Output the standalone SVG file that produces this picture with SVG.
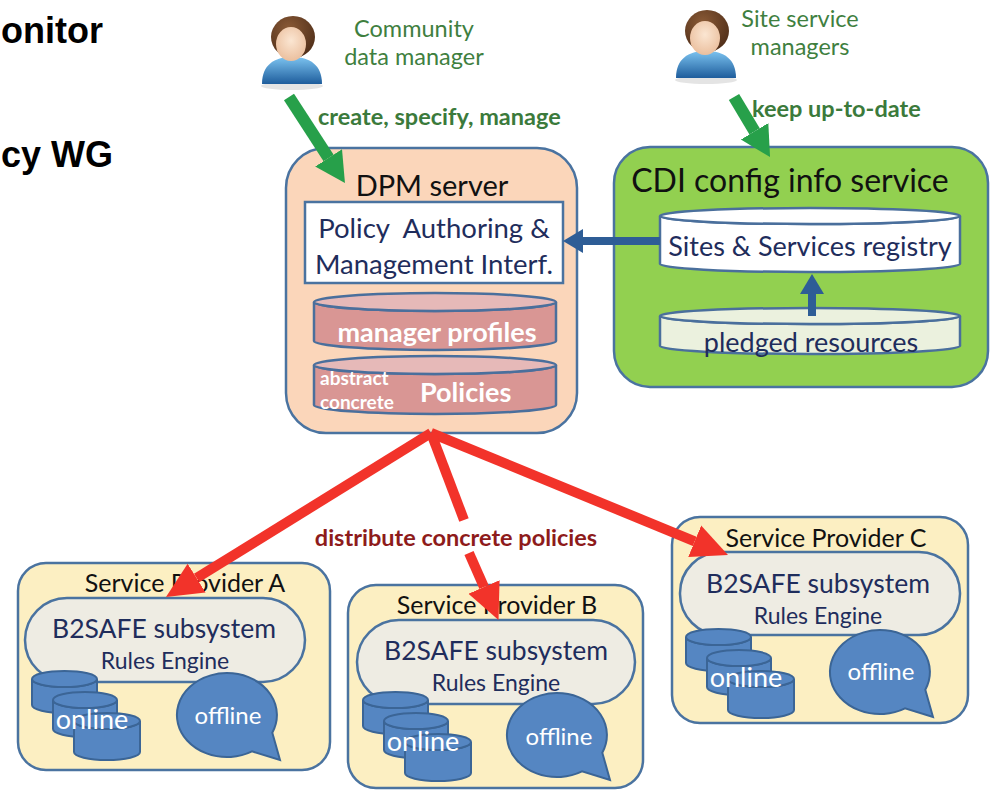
<svg xmlns="http://www.w3.org/2000/svg" xmlns:xlink="http://www.w3.org/1999/xlink" width="992" height="790" viewBox="0 0 992 790">
  <style>
    .t { font-family: "Lato", "Liberation Sans", sans-serif; }
    .head { font-family: "Liberation Sans", Arial, sans-serif; font-weight: bold; font-size: 36px; fill: #000; }
    .actor { font-size: 23.5px; fill: #3f7f3f; text-anchor: middle; }
    .verb { font-size: 23.5px; font-weight: bold; fill: #3b7a3b; }
    .title { fill: #111; text-anchor: middle; }
    .navy { fill: #1f2d5c; text-anchor: middle; }
    .white { fill: #fff; font-weight: bold; }
    .box { stroke: #4a73a0; stroke-width: 2.5; }
    .dpm { fill: #fbd6ba; }
    .cdi { fill: #92d050; }
    .sp { fill: #fcefc2; }
    .stadium { fill: #eeece3; stroke: #4a73a0; stroke-width: 2.5; }
    .rose { fill: #d99694; stroke: #4a6f9c; stroke-width: 2.5; }
    .roseTop { fill: #e6b9b8; stroke: #4a6f9c; stroke-width: 2.5; }
    .pale { fill: #ffffff; stroke: #4a6f9c; stroke-width: 2.5; }
    .pledged { fill: #ebf1de; stroke: #4a6f9c; stroke-width: 2.5; }
    .store { fill: #5586c2; stroke: #3b6596; stroke-width: 2; }
    .spname { font-size: 25px; fill: #111; text-anchor: middle; }
    .b2 { font-size: 26.5px; }
    .rules { font-size: 23px; }
    .online { font-size: 27px; fill: #fff; text-anchor: middle; }
    .offline { font-size: 24px; fill: #fff; text-anchor: middle; }
    .red { stroke: #f2332a; stroke-width: 10; fill: none; }
    .green { stroke: #27a04a; stroke-width: 12; fill: none; }
    .blue { stroke: #2e5d96; stroke-width: 8; fill: none; }
  </style>
  <defs>
    <marker id="redHead" markerUnits="userSpaceOnUse" viewBox="0 -20 40 40" refX="0" refY="0" markerWidth="40" markerHeight="40" orient="auto">
      <path d="M0,-17 L36,0 L0,17 Z" fill="#f2332a"/>
    </marker>
    <marker id="greenHead" markerUnits="userSpaceOnUse" viewBox="0 -20 40 40" refX="0" refY="0" markerWidth="40" markerHeight="40" orient="auto">
      <path d="M0,-16 L30,0 L0,16 Z" fill="#27a04a"/>
    </marker>
    <marker id="blueHead" markerUnits="userSpaceOnUse" viewBox="0 -15 30 30" refX="0" refY="0" markerWidth="30" markerHeight="30" orient="auto">
      <path d="M0,-12 L20,0 L0,12 Z" fill="#2e5d96"/>
    </marker>
    <radialGradient id="hair" cx="0.4" cy="0.3" r="0.8">
      <stop offset="0" stop-color="#8a5a36"/>
      <stop offset="1" stop-color="#4a2a16"/>
    </radialGradient>
    <radialGradient id="skin" cx="0.5" cy="0.4" r="0.7">
      <stop offset="0" stop-color="#fbe6d2"/>
      <stop offset="1" stop-color="#e8b996"/>
    </radialGradient>
    <linearGradient id="shirt" x1="0" y1="0" x2="0" y2="1">
      <stop offset="0" stop-color="#7cc3f0"/>
      <stop offset="1" stop-color="#1e5d9c"/>
    </linearGradient>
    <!-- person figure, 64 x 74 -->
    <g id="person">
      <ellipse cx="32" cy="70" rx="31" ry="4" fill="#d8d8d8" opacity="0.7"/>
      <path d="M2,68 C2,49 14,41 32,41 C50,41 62,49 62,68 Z" fill="url(#shirt)"/>
      <ellipse cx="33" cy="21" rx="22" ry="21" fill="url(#hair)"/>
      <ellipse cx="31" cy="28" rx="15" ry="17" fill="url(#skin)"/>
    </g>
    <!-- three stacked storage cylinders -->
    <g id="stack" class="store">
      <path d="M0,8 V34 A32.5,8 0 0 0 65,34 V8 A32.5,8 0 0 1 0,8 Z"/>
      <ellipse cx="32.5" cy="8" rx="32.5" ry="8"/>
      <path d="M21,29 V58 A32,8 0 0 0 85,58 V29 A32,8 0 0 1 21,29 Z"/>
      <ellipse cx="53" cy="29" rx="32" ry="8"/>
      <path d="M42,50 V81 A33,8 0 0 0 108,81 V50 A33,8 0 0 1 42,50 Z"/>
      <ellipse cx="75" cy="50" rx="33" ry="8"/>
    </g>
    <!-- speech bubble, centred on 0,0 -->
    <path id="bubble" class="store" d="M25,36.4 A50,42 0 1 1 45.3,17.7 L53,45 Z"/>
  </defs>

  <rect width="992" height="790" fill="#ffffff"/>

  <!-- slide title fragments -->
  <text class="head" x="1" y="43">onitor</text>
  <text class="head" x="1" y="167" font-size="34">cy WG</text>

  <g id="community-data-manager">
    <use xlink:href="#person" transform="translate(260,16)"/>
    <text class="t actor" x="414" y="37">Community</text>
    <text class="t actor" x="414" y="65">data manager</text>
  </g>

  <g id="site-service-managers">
    <use xlink:href="#person" transform="translate(674,10)"/>
    <text class="t actor" x="800" y="27">Site service</text>
    <text class="t actor" x="800" y="55">managers</text>
  </g>

  <g id="dpm-server">
    <rect class="box dpm" x="286" y="148" width="291" height="285" rx="40"/>
    <text class="t title" x="432" y="196" font-size="29">DPM server</text>
    <rect x="305" y="202" width="258" height="81" fill="#fff" stroke="#4a73a0" stroke-width="2.5"/>
    <text class="t navy" x="434" y="238" font-size="27.5" xml:space="preserve">Policy  Authoring &amp;</text>
    <text class="t navy" x="434" y="274" font-size="27.5">Management Interf.</text>
    <path class="rose" d="M314,302 V341 A121,9 0 0 0 556,341 V302 A121,9 0 0 1 314,302 Z"/>
    <ellipse class="roseTop" cx="435" cy="302" rx="121" ry="9"/>
    <text class="t white" x="437" y="342" font-size="27" text-anchor="middle">manager profiles</text>
    <path class="rose" d="M314,365 V405 A121,9 0 0 0 556,405 V365 A121,9 0 0 1 314,365 Z"/>
    <ellipse class="roseTop" cx="435" cy="365" rx="121" ry="9"/>
    <text class="t white" x="320" y="385" font-size="19">abstract</text>
    <text class="t white" x="320" y="409" font-size="19">concrete</text>
    <text class="t white" x="420" y="402" font-size="27">Policies</text>
  </g>

  <g id="cdi-config-info-service">
    <rect class="box cdi" x="614" y="147" width="374" height="240" rx="36"/>
    <text class="t title" x="790" y="192" font-size="32">CDI config info service</text>
    <path class="pale" d="M660,216 V264 A150,8 0 0 0 960,264 V216 A150,8 0 0 1 660,216 Z"/>
    <ellipse class="pale" cx="810" cy="216" rx="150" ry="8"/>
    <text class="t navy" x="810" y="256" font-size="27">Sites &amp; Services registry</text>
    <path class="pledged" d="M660,316 V346 A150,8 0 0 0 960,346 V316 A150,8 0 0 1 660,316 Z"/>
    <ellipse class="pledged" cx="810" cy="316" rx="150" ry="8"/>
    <text class="t navy" x="811" y="352" font-size="27">pledged resources</text>
  </g>

  <g id="service-provider-a" transform="translate(18,563)">
    <rect class="box sp" x="0" y="0" width="312" height="207" rx="28"/>
    <text class="t spname" x="167" y="29">Service Provider A</text>
    <rect class="stadium" x="7" y="35" width="280" height="84" rx="42"/>
    <text class="t navy b2" x="146" y="75">B2SAFE subsystem</text>
    <text class="t navy rules" x="147" y="106">Rules Engine</text>
    <use xlink:href="#stack" transform="translate(14,108)"/>
    <text class="t online" x="74" y="166">online</text>
    <use xlink:href="#bubble" transform="translate(209,152)"/>
    <text class="t offline" x="210" y="161">offline</text>
  </g>

  <g id="service-provider-b" transform="translate(348,585)">
    <rect class="box sp" x="0" y="0" width="295" height="203" rx="28"/>
    <text class="t spname" x="149" y="29">Service Provider B</text>
    <rect class="stadium" x="9" y="35" width="278" height="84" rx="42"/>
    <text class="t navy b2" x="148" y="75">B2SAFE subsystem</text>
    <text class="t navy rules" x="148" y="106">Rules Engine</text>
    <use xlink:href="#stack" transform="translate(15,107)"/>
    <text class="t online" x="75" y="166">online</text>
    <use xlink:href="#bubble" transform="translate(209,150)"/>
    <text class="t offline" x="211" y="160">offline</text>
  </g>

  <g id="service-provider-c" transform="translate(672,517)">
    <rect class="box sp" x="0" y="0" width="296" height="206" rx="28"/>
    <text class="t spname" x="154" y="30">Service Provider C</text>
    <rect class="stadium" x="8" y="35" width="280" height="83" rx="41"/>
    <text class="t navy b2" x="146" y="76">B2SAFE subsystem</text>
    <text class="t navy rules" x="146" y="107">Rules Engine</text>
    <use xlink:href="#stack" transform="translate(14,112)"/>
    <text class="t online" x="74" y="170">online</text>
    <use xlink:href="#bubble" transform="translate(208,155)"/>
    <text class="t offline" x="209" y="163">offline</text>
  </g>

  <g id="connectors">
    <line class="green" x1="289" y1="97" x2="328.6" y2="157.9" marker-end="url(#greenHead)"/>
    <text class="t verb" x="318" y="125">create, specify, manage</text>
    <line class="green" x1="734" y1="97" x2="754.6" y2="131.3" marker-end="url(#greenHead)"/>
    <text class="t verb" x="752" y="117">keep up-to-date</text>

    <line class="blue" x1="660" y1="241" x2="583" y2="241" marker-end="url(#blueHead)"/>
    <line class="blue" x1="812" y1="316" x2="812" y2="294" marker-end="url(#blueHead)"/>

    <line class="red" x1="431" y1="433" x2="196.6" y2="578.1" marker-end="url(#redHead)"/>
    <line class="red" x1="431" y1="433" x2="694.7" y2="541.3" marker-end="url(#redHead)"/>
    <line class="red" x1="431" y1="433" x2="464" y2="520"/>
    <line class="red" x1="469" y1="553" x2="484" y2="587" marker-end="url(#redHead)"/>
    <text class="t" x="456" y="546" font-size="23.5" font-weight="bold" fill="#8e1b1b" text-anchor="middle">distribute concrete policies</text>
  </g>
</svg>
